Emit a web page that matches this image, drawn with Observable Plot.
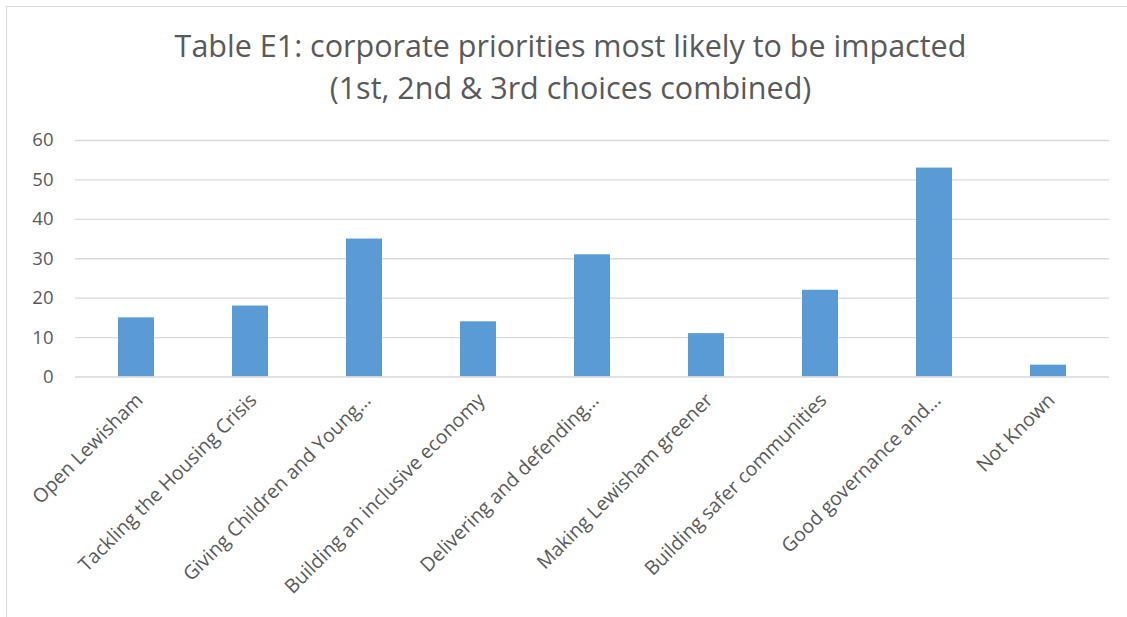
<!DOCTYPE html>
<html>
<head>
<meta charset="utf-8">
<script src="https://cdn.jsdelivr.net/npm/d3@7"></script>
<script src="https://cdn.jsdelivr.net/npm/@observablehq/plot@0.6"></script>
<style>
  html, body { margin: 0; padding: 0; background: #fff; overflow: hidden; }
  #frame { position: absolute; left: 6px; top: 6px; width: 1200px; height: 700px; border: 1px solid #d9d9d9; box-sizing: border-box; }
  #title { position: absolute; left: 0; top: 24px; width: 1141px; text-align: center; font-family: "Open Sans", sans-serif; font-size: 30.5px; line-height: 42px; color: #595959; }
  #chart { position: absolute; left: 0; top: 110px; }
</style>
</head>
<body>
<div id="frame"></div>
<div id="title">Table E1: corporate priorities most likely to be impacted<br>(1st, 2nd &amp; 3rd choices combined)</div>
<div id="chart"></div>
<script>
const categories = [
  "Open Lewisham",
  "Tackling the Housing Crisis",
  "Giving Children and Young…",
  "Building an inclusive economy",
  "Delivering and defending…",
  "Making Lewisham greener",
  "Building safer communities",
  "Good governance and…",
  "Not Known"
];
const values = [15, 18, 35, 14, 31, 11, 22, 53, 3];
const yTicks = [0, 10, 20, 30, 40, 50, 60];

const data = categories.map((c, i) => ({category: c, value: values[i]}));

const chart = Plot.plot({
  width: 1127,
  height: 507,
  marginLeft: 75,
  marginRight: 18,
  marginTop: 30,
  marginBottom: 240.5,
  style: {fontFamily: "'Open Sans', sans-serif", fontSize: "18px", color: "#595959", background: "transparent"},
  x: {domain: categories, paddingInner: 0.687, paddingOuter: 0.3435, align: 0.5},
  y: {domain: [0, 60], ticks: yTicks},
  marks: [
    Plot.gridY(yTicks.filter(d => d > 0), {stroke: "#d9d9d9", strokeOpacity: 1, strokeWidth: 1.3}),
    Plot.axisY({ticks: yTicks, tickSize: 0, tickPadding: 22, label: null, fill: "#595959", fontSize: 18.5}),
    Plot.barY(data, {x: "category", y: "value", fill: "#5b9bd5"}),
    Plot.ruleY([0], {stroke: "#d9d9d9", strokeWidth: 1.6}),
    Plot.axisX({tickSize: 0, tickRotate: -45, tickPadding: 20, dx: 3, label: null, fill: "#595959", fontSize: 19.5})
  ]
});
document.getElementById("chart").appendChild(chart);
</script>
</body>
</html>
